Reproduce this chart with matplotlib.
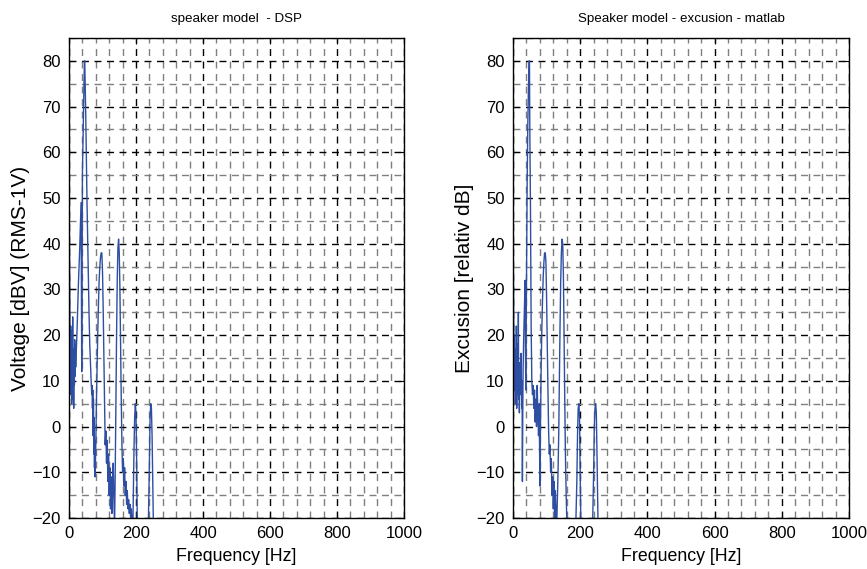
import matplotlib
matplotlib.use("Agg")
import matplotlib.pyplot as plt
from matplotlib.ticker import MultipleLocator

plt.rcParams['font.family'] = ['Liberation Sans', 'DejaVu Sans']
plt.rcParams['font.size'] = 10

# Simulated voltage response of the speaker model on the DSP
left_hz = [0, 1, 2, 3, 4, 5, 6, 7, 8, 9,
           10, 11, 12, 13, 14, 15, 16, 17, 18, 19,
           20, 22, 24, 26, 28, 30, 32, 34, 36, 37,
           38, 39, 40, 42, 44, 46, 47, 48, 50, 52,
           54, 56, 58, 60, 62, 64, 66, 68, 69, 70,
           71, 72, 73, 74, 75, 76, 77, 78, 80, 82,
           84, 86, 88, 90, 92, 94, 96, 98, 100, 102,
           104, 106, 108, 110, 112, 114, 116, 118, 120, 122,
           124, 126, 128, 130, 132, 134, 136, 138, 140, 142,
           144, 146, 148, 150, 152, 154, 156, 158, 160, 162,
           164, 166, 168, 170, 172, 174, 176, 178, 180, 182,
           184, 186, 188, 190, 192, 194, 196, 198, 200, 202,
           204, 206, 220, 236, 240, 242, 244, 246, 248, 250,
           252, 254, 256, 270]
left_db = [55, 42, 28, 18, 9, 22, 7, 19, 5, 21,
           11, 24, 6, 17, 4, 15, 9, 19, 11, 16,
           13, 17, 21, 26, 31, 35, 39, 44, 49, 28,
           12, 30, 55, 63, 72, 80, 80, 76, 68, 58,
           48, 40, 31, 24, 18, 14, 10, 7, 9, 4,
           8, -2, 6, -6, 2, -9, -3, -11, -4, 6,
           14, 21, 27, 32, 35, 37, 38, 38, 34, 26,
           16, 6, -4, -1, -8, -3, -12, -6, -15, -9,
           -18, -11, -19, -14, -8, -16, -22, -10, 5, 20,
           32, 39, 41, 38, 30, 18, 6, -4, -10, -7,
           -13, -9, -15, -12, -17, -14, -18, -16, -19, -17,
           -20, -18, -21, -25, -15, -5, 2, 5, 3, -8,
           -22, -30, -30, -25, -8, 2, 5, 4, -2, -12,
           -22, -30, -30, -30]

# Excursion computed with the matlab model
right_hz = [0, 1, 2, 3, 4, 5, 6, 7, 8, 9,
            10, 11, 12, 13, 14, 15, 16, 17, 18, 19,
            20, 22, 24, 26, 27, 28, 29, 30, 32, 34,
            36, 37, 38, 40, 42, 44, 46, 48, 49, 50,
            52, 53, 54, 56, 58, 60, 62, 64, 66, 68,
            70, 72, 74, 76, 78, 80, 82, 84, 86, 88,
            90, 92, 94, 96, 98, 100, 102, 104, 106, 108,
            110, 112, 114, 116, 118, 120, 122, 124, 126, 128,
            130, 132, 134, 136, 138, 140, 142, 144, 146, 148,
            150, 152, 154, 156, 158, 160, 162, 164, 170, 186,
            190, 192, 194, 196, 198, 200, 202, 204, 206, 220,
            236, 240, 242, 244, 246, 248, 250, 252, 254, 256,
            270]
right_db = [52, 36, 24, 12, 20, 8, 17, 5, 15, 9,
            22, 4, 13, 7, 18, 10, 25, 6, 14, 3,
            11, 7, 16, 4, 10, -12, 2, 12, 20, 26,
            32, 18, 8, 30, 52, 66, 74, 80, 80, 65,
            48, 35, 22, 10, 7, 9, 4, 8, 1, 6,
            0, 9, 3, -2, 5, -13, 2, 14, 22, 28,
            33, 36, 38, 38, 36, 28, 18, 8, -1, -6,
            -4, -10, -7, -15, -11, -18, -12, -20, -14, -19,
            -22, -16, -10, -2, 10, 22, 32, 38, 41, 40,
            33, 20, 6, -6, -14, -20, -26, -30, -30, -24,
            -12, -2, 4, 5, 2, -10, -22, -30, -30, -30,
            -25, -10, 0, 4, 5, 3, -6, -16, -26, -30,
            -30]

assert len(left_hz) == len(left_db)
assert len(right_hz) == len(right_db)

titles = ["speaker model  - DSP", "Speaker model - excusion - matlab"]
ylabels = ["Voltage [dBV] (RMS-1V)", "Excusion [relativ dB]"]
xlabel = "Frequency [Hz]"

fig = plt.figure(figsize=(8.67, 5.69), dpi=100)
ax_l = fig.add_axes([69 / 867, 1 - 518 / 569, 335 / 867, 480 / 569])
ax_r = fig.add_axes([513 / 867, 1 - 518 / 569, 336 / 867, 480 / 569])

line_color = '#2d4ea3'
for ax, hz, db, title, ylab in [(ax_l, left_hz, left_db, titles[0], ylabels[0]),
                                (ax_r, right_hz, right_db, titles[1], ylabels[1])]:
    ax.plot(hz, db, color=line_color, linewidth=1.0)
    ax.set_xlim(0, 1000)
    ax.set_ylim(-20, 85)
    ax.xaxis.set_major_locator(MultipleLocator(200))
    ax.xaxis.set_minor_locator(MultipleLocator(40))
    ax.yaxis.set_major_locator(MultipleLocator(10))
    ax.yaxis.set_minor_locator(MultipleLocator(5))
    ax.grid(which='major', color='black', linestyle=(0, (5, 4)), linewidth=1.0)
    ax.grid(which='minor', color='#7f7f7f', linestyle=(0, (5, 4)), linewidth=1.0)
    ax.set_axisbelow(True)
    ax.tick_params(which='major', direction='in', length=4, width=0.8,
                   top=True, right=True, labelsize=12, pad=6)
    ax.tick_params(which='minor', length=0)
    for s in ax.spines.values():
        s.set_linewidth(1.0)
        s.set_color('black')
    ax.set_title(title, fontsize=9.6, pad=11.5)
    ax.set_xlabel(xlabel, fontsize=12.8, labelpad=5)
    ax.set_ylabel(ylab, fontsize=15, labelpad=2)

fig.savefig("out.png", dpi=100)
